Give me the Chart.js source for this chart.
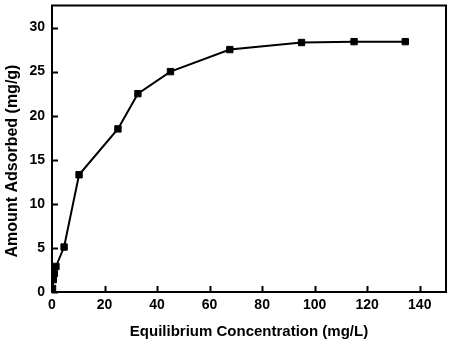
<!DOCTYPE html>
<html>
<head>
<meta charset="utf-8">
<script src="https://cdn.jsdelivr.net/npm/chart.js@4/dist/chart.umd.min.js"></script>
<style>
  html, body { margin: 0; padding: 0; background: #fff; }
  #wrap { width: 453px; height: 346px; }
</style>
</head>
<body>
<div id="wrap"><canvas id="c" width="453" height="346"></canvas></div>
<script>
// equilibrium concentration (mg/L) and amount adsorbed (mg/g)
var concX = [0.2, 0.5, 0.9, 1.5, 4.6, 10.3, 25.1, 32.7, 45.1, 67.7, 95.0, 115.0, 134.5];
var adsY  = [0.4, 1.4, 2.1, 2.9, 5.1, 13.3, 18.5, 22.5, 25.0, 27.5, 28.3, 28.4, 28.4];
var xTicks = [0, 20, 40, 60, 80, 100, 120, 140];
var yTicks = [0, 5, 10, 15, 20, 25, 30];
var yTitle = 'Amount Adsorbed (mg/g)';

var FONT = "'Liberation Sans', Arial, sans-serif";

var pts = concX.map(function (x, i) { return { x: x, y: adsY[i] }; });

// frame + inward ticks + y title (sits a bit below the axis centre in the original)
var framePlugin = {
    id: 'frame',
    afterDraw: function (chart) {
        var ctx = chart.ctx, a = chart.chartArea;
        var xs = chart.scales.x, ys = chart.scales.y;
        ctx.save();
        ctx.strokeStyle = '#000';
        ctx.lineWidth = 2;
        ctx.strokeRect(a.left, a.top, a.right - a.left, a.bottom - a.top);
        ctx.beginPath();
        xTicks.forEach(function (v) {
            var px = Math.round(xs.getPixelForValue(v)) + 0.5;
            ctx.moveTo(px, a.bottom);
            ctx.lineTo(px, a.bottom - 6);
        });
        yTicks.forEach(function (v) {
            var py = Math.round(ys.getPixelForValue(v)) + 0.5;
            ctx.moveTo(a.left, py);
            ctx.lineTo(a.left + 6, py);
        });
        ctx.stroke();

        ctx.translate(13, 161);
        ctx.rotate(-Math.PI / 2);
        ctx.fillStyle = '#000';
        ctx.font = 'bold 16px ' + FONT;
        ctx.textAlign = 'center';
        ctx.textBaseline = 'middle';
        ctx.fillText(yTitle, 0, 0);
        ctx.restore();
    }
};

function noPad(s) { s.paddingTop = 0; s.paddingBottom = 0; s.paddingLeft = 0; s.paddingRight = 0; }

new Chart(document.getElementById('c'), {
    type: 'scatter',
    data: {
        datasets: [{
            data: pts,
            showLine: true,
            borderColor: '#000',
            borderWidth: 2,
            backgroundColor: '#000',
            pointStyle: 'rect',
            pointRadius: 4.5,
            pointBorderWidth: 1,
            pointBorderColor: '#000',
            pointBackgroundColor: '#000'
        }]
    },
    options: {
        responsive: false,
        animation: false,
        layout: { padding: { top: 5, right: 7, left: 0, bottom: 0 } },
        plugins: { legend: { display: false }, tooltip: { enabled: false } },
        scales: {
            x: {
                type: 'linear',
                min: 0, max: 150,
                grid: { display: false, drawTicks: false },
                border: { display: false },
                afterBuildTicks: function (s) { s.ticks = xTicks.map(function (v) { return { value: v }; }); },
                afterFit: function (s) { s.height = 54; noPad(s); },
                ticks: { color: '#000', padding: 5, font: { family: FONT, size: 14, weight: 'bold' }, maxRotation: 0 },
                title: {
                    display: true,
                    text: 'Equilibrium Concentration (mg/L)',
                    color: '#000',
                    font: { family: FONT, size: 15, weight: 'bold' },
                    padding: { top: 0, bottom: 5 }
                }
            },
            y: {
                type: 'linear',
                min: 0, max: 32.5,
                grid: { display: false, drawTicks: false },
                border: { display: false },
                afterBuildTicks: function (s) { s.ticks = yTicks.map(function (v) { return { value: v }; }); },
                afterFit: function (s) { s.width = 52; noPad(s); },
                ticks: { color: '#000', padding: 7, font: { family: FONT, size: 14, weight: 'bold' } },
                title: { display: false }
            }
        }
    },
    plugins: [framePlugin]
});
</script>
</body>
</html>
